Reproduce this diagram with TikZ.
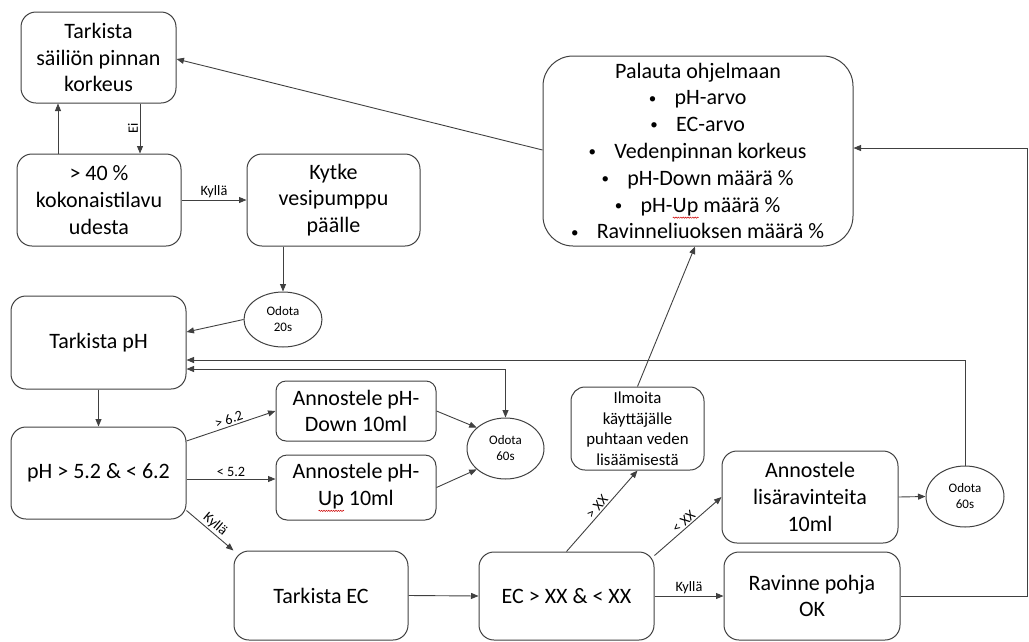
\documentclass[tikz,border=0pt]{standalone}
\usepackage{fontspec}
\setmainfont{Carlito}
\usetikzlibrary{arrows.meta,shapes.geometric,decorations.pathmorphing}
\definecolor{ln}{HTML}{404040}
\newcommand\bigfs{\fontsize{22}{26.8}\selectfont}
\newcommand\midfs{\fontsize{16.8}{20.5}\selectfont}
\newcommand\smallfs{\fontsize{13}{16}\selectfont}
\newcommand\labfs{\fontsize{14.3}{16}\selectfont}
\newcommand\mybul{\makebox[6pt]{\raisebox{1.8pt}{\fontsize{15}{15}\selectfont\textbullet}}\hspace{19pt}}
\newlength\spellwd
\newcommand\spellmark[1]{\settowidth{\spellwd}{#1}\rlap{\tikz[baseline=0pt,x=1cm,y=1cm,sharp corners]\draw[red!80!black,line width=0.5pt,sharp corners,decorate,decoration={snake,amplitude=0.6pt,segment length=2.4pt}] (0pt,-5.5pt) -- (\spellwd,-5.5pt);}#1}
\tikzset{
  box/.style={draw=ln, line width=1pt, align=center, inner sep=0pt, font=\bigfs, text=black},
  oval/.style={ellipse, draw=ln, line width=1pt, align=center, inner sep=0pt, font=\smallfs, text=black},
  arr/.style={draw=ln, line width=0.9pt, -{Triangle[length=7.5pt,width=6pt]}},
  darr/.style={draw=ln, line width=0.9pt, {Triangle[length=7.5pt,width=6pt]}-{Triangle[length=7.5pt,width=6pt]}},
  lab/.style={font=\labfs, inner sep=1.5pt, text=black},
}
\begin{document}
\begin{tikzpicture}[x=1pt,y=-1pt]
\useasboundingbox (0,0) rectangle (1029,641);
% boxes
\node[box, rounded corners=15pt, minimum width=155pt, minimum height=91pt] (A) at (98.5,57.5) {Tarkista\\säiliön pinnan\\korkeus};
\node[box, rounded corners=15pt, minimum width=164pt, minimum height=92pt] (B) at (99,200) {> 40 \%\\kokonaistilavu\\udesta};
\node[box, rounded corners=15pt, minimum width=173pt, minimum height=92pt] (C) at (333.5,200) {Kytke\\vesipumppu\\päälle};
\node[oval, minimum width=78pt, minimum height=55pt] (O20) at (283,319.5) {Odota\\20s};
\node[box, rounded corners=15pt, minimum width=175pt, minimum height=93pt] (D) at (98.5,342.5) {Tarkista pH};
\node[box, rounded corners=15pt, minimum width=175pt, minimum height=92pt] (E) at (98.5,473) {pH > 5.2 \& < 6.2};
\node[box, rounded corners=10pt, minimum width=160pt, minimum height=60pt] (F) at (356,411) {Annostele pH-\\Down 10ml};
\node[box, rounded corners=11pt, minimum width=160pt, minimum height=65pt] (G) at (356,487.5) {Annostele pH-\\\spellmark{Up} 10ml};
\node[oval, minimum width=77pt, minimum height=61pt] (O60a) at (505.5,448.5) {Odota\\60s};
\node[box, rounded corners=15pt, minimum width=174pt, minimum height=89pt] (H) at (321,595.5) {Tarkista EC};
\node[box, rounded corners=15pt, minimum width=175pt, minimum height=88pt] (I) at (566.5,596) {EC > XX \& < XX};
\node[box, rounded corners=14pt, minimum width=133pt, minimum height=83pt, font=\midfs] (J) at (637.5,428.5) {Ilmoita\\käyttäjälle\\puhtaan veden\\lisäämisestä};
\node[box, rounded corners=15pt, minimum width=176pt, minimum height=92pt] (K) at (810,497) {Annostele\\lisäravinteita\\10ml};
\node[box, rounded corners=15pt, minimum width=176pt, minimum height=88pt] (L) at (812,596) {Ravinne pohja\\OK};
\node[oval, minimum width=78pt, minimum height=61pt] (O60b) at (965,496.5) {Odota\\60s};
\node[box, rounded corners=30pt, minimum width=310pt, minimum height=190pt] (M) at (698,151) {Palauta ohjelmaan\\\mybul pH-arvo\\\mybul EC-arvo\\\mybul Vedenpinnan korkeus\\\mybul pH-Down määrä \%\\\mybul pH-\spellmark{Up} määrä \%\\\mybul Ravinneliuoksen määrä \%};
\coordinate (rx) at (1027,0);
% connectors
\draw[arr] ([xshift=-41pt]B.north) -- ([xshift=-40.5pt]A.south);
\draw[arr] ([xshift=41.5pt]A.south) -- node[lab, midway, xshift=-7pt, rotate=90] {Ei} ([xshift=41pt]B.north);
\draw[arr] (B.east) -- node[lab, above] {Kyllä} (C.west);
\draw[arr] ([xshift=-50.5pt]C.south) -- (O20.north);
\draw[arr] (O20.west) -- ([yshift=10.5pt]D.east);
\draw[arr] (D.south) -- (E.north);
\draw[arr] ([yshift=32pt]E.east) -- node[lab, sloped, above] {> 6.2} (F.west);
\draw[arr] ([yshift=-6pt]E.east) -- node[lab, above] {< 5.2} ([yshift=8.5pt]G.west);
\draw[arr] (F.east) -- (O60a.144);
\draw[arr] (G.east) -- (O60a.216);
\draw[darr] (O60a.north) |- ([yshift=-26.5pt]D.east);
\draw[arr] (O60b.north) |- ([yshift=-17.5pt]D.east);
\draw[arr] ([yshift=9pt]E.south east) -- node[lab, sloped, above] {Kyllä} (H.north west);
\draw[arr] (H.east) -- (I.west);
\draw[arr] (I.east) -- node[lab, above] {Kyllä} (L.west);
\draw[arr] (I.north) -- node[lab, sloped, above] {> XX} (J.south);
\draw[arr] ([yshift=-4pt]I.north east) -- node[lab, sloped, above] {< XX} (K.west);
\draw[arr] (J.north) -- ([xshift=-3pt]M.south);
\draw[arr] (K.east) -- (O60b.west);
\draw[arr] (L.east) -- (L.east -| rx) |- ([yshift=3pt]M.east);
\draw[arr] ([yshift=1pt]M.west) -- ([yshift=-1.5pt]A.east);
\end{tikzpicture}
\end{document}
